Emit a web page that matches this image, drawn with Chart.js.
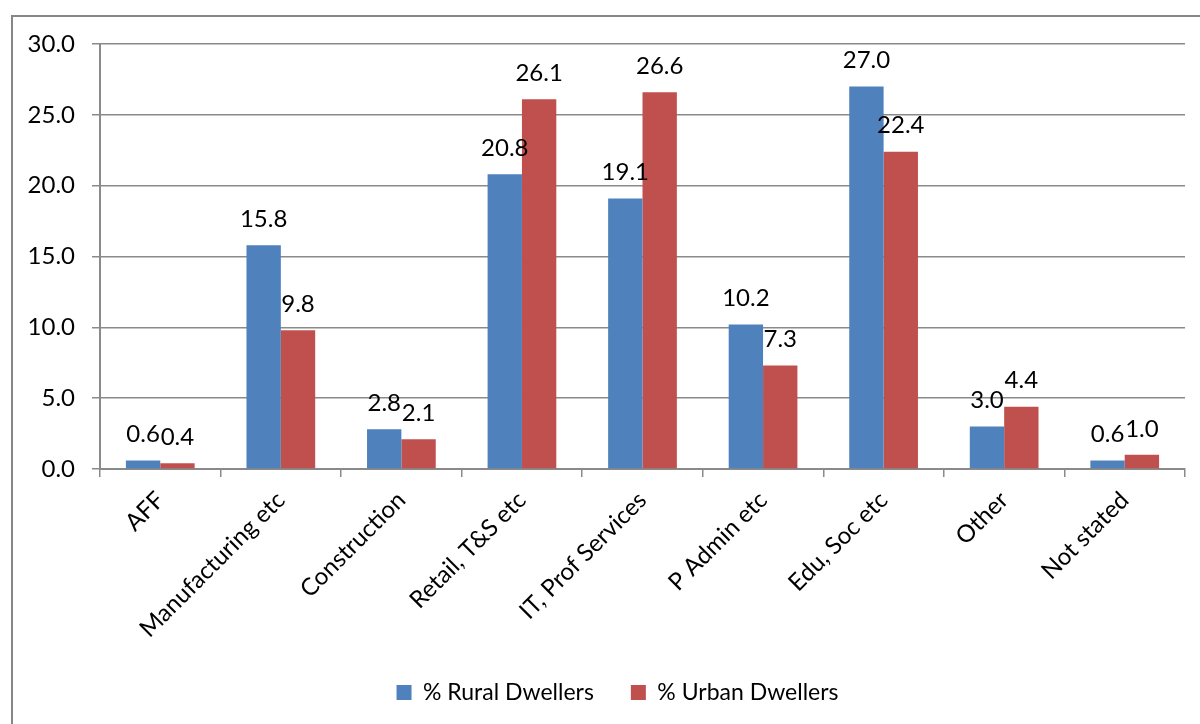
<!DOCTYPE html>
<html>
<head>
<meta charset="utf-8">
<script src="https://cdn.jsdelivr.net/npm/chart.js@4.4.0/dist/chart.umd.min.js"></script>
<style>
  html, body { margin: 0; padding: 0; background: #fff; }
  #wrap { width: 1200px; height: 724px; }
</style>
</head>
<body>
<div id="wrap"><canvas id="c" width="1200" height="724"></canvas></div>
<script>
// Industry of employment, % of workers by place of residence
const categories = ['AFF', 'Manufacturing etc', 'Construction', 'Retail, T&S etc', 'IT, Prof Services', 'P Admin etc', 'Edu, Soc etc', 'Other', 'Not stated'];
const ruralDwellers = [0.6, 15.8, 2.8, 20.8, 19.1, 10.2, 27.0, 3.0, 0.6];
const urbanDwellers = [0.4, 9.8, 2.1, 26.1, 26.6, 7.3, 22.4, 4.4, 1.0];
const seriesNames = ['% Rural Dwellers', '% Urban Dwellers'];
const yTicks = { min: 0, max: 30, step: 5 };

const FONT = 'Lato';
const GRID = '#8a8a8a';

// white page with the grey frame around the chart
const framePlugin = {
  id: 'frame',
  beforeDraw(chart) {
    const ctx = chart.ctx;
    ctx.save();
    ctx.fillStyle = '#ffffff';
    ctx.fillRect(0, 0, chart.width, chart.height);
    ctx.strokeStyle = '#878787';
    ctx.lineWidth = 2;
    ctx.strokeRect(12, 16, 1400, 900);
    ctx.restore();
  }
};

// centre the legend under the plot area rather than the whole canvas
const legendShift = {
  id: 'legendShift',
  afterLayout(chart) {
    const lg = chart.legend;
    if (!lg) return;
    const dx = 25;
    lg.left += dx;
    lg.right += dx;
  }
};

// value labels above each bar
const valueLabels = {
  id: 'valueLabels',
  afterDatasetsDraw(chart) {
    const ctx = chart.ctx;
    ctx.save();
    ctx.font = '24px ' + FONT;
    ctx.fillStyle = '#000';
    ctx.textAlign = 'center';
    ctx.textBaseline = 'middle';
    chart.data.datasets.forEach((ds, i) => {
      const meta = chart.getDatasetMeta(i);
      meta.data.forEach((bar, j) => {
        ctx.fillText(ds.data[j].toFixed(1), bar.x, bar.y - 26);
      });
    });
    ctx.restore();
  }
};

new Chart(document.getElementById('c'), {
  type: 'bar',
  data: {
    labels: categories,
    datasets: [
      { label: seriesNames[0], data: ruralDwellers, backgroundColor: '#4F81BD', categoryPercentage: 0.57, barPercentage: 1.0 },
      { label: seriesNames[1], data: urbanDwellers, backgroundColor: '#C0504D', categoryPercentage: 0.57, barPercentage: 1.0 }
    ]
  },
  options: {
    responsive: false,
    animation: false,
    layout: { padding: { top: 44, right: 15, bottom: 10, left: 0 } },
    plugins: {
      tooltip: { enabled: false },
      legend: {
        position: 'bottom',
        labels: {
          boxWidth: 15,
          boxHeight: 15,
          padding: 37,
          color: '#000',
          font: { family: FONT, size: 23 }
        }
      }
    },
    scales: {
      x: {
        grid: { display: true, drawOnChartArea: false, drawTicks: true, tickLength: 8, color: GRID, lineWidth: 1.5, offset: true },
        border: { display: true, color: GRID, width: 2 },
        ticks: {
          autoSkip: false,
          minRotation: 45,
          maxRotation: 45,
          padding: 9,
          color: '#000',
          font: { family: FONT, size: 24 }
        },
        afterFit(scale) { scale.height = 175; }
      },
      y: {
        min: yTicks.min,
        max: yTicks.max,
        grid: { color: GRID, lineWidth: 1.5, tickLength: 8 },
        border: { display: true, color: GRID, width: 2 },
        ticks: {
          stepSize: yTicks.step,
          padding: 17,
          color: '#000',
          font: { family: FONT, size: 24 },
          callback: v => v.toFixed(1)
        },
        afterFit(scale) { scale.width = 100; }
      }
    }
  },
  plugins: [framePlugin, legendShift, valueLabels]
});
</script>
</body>
</html>
